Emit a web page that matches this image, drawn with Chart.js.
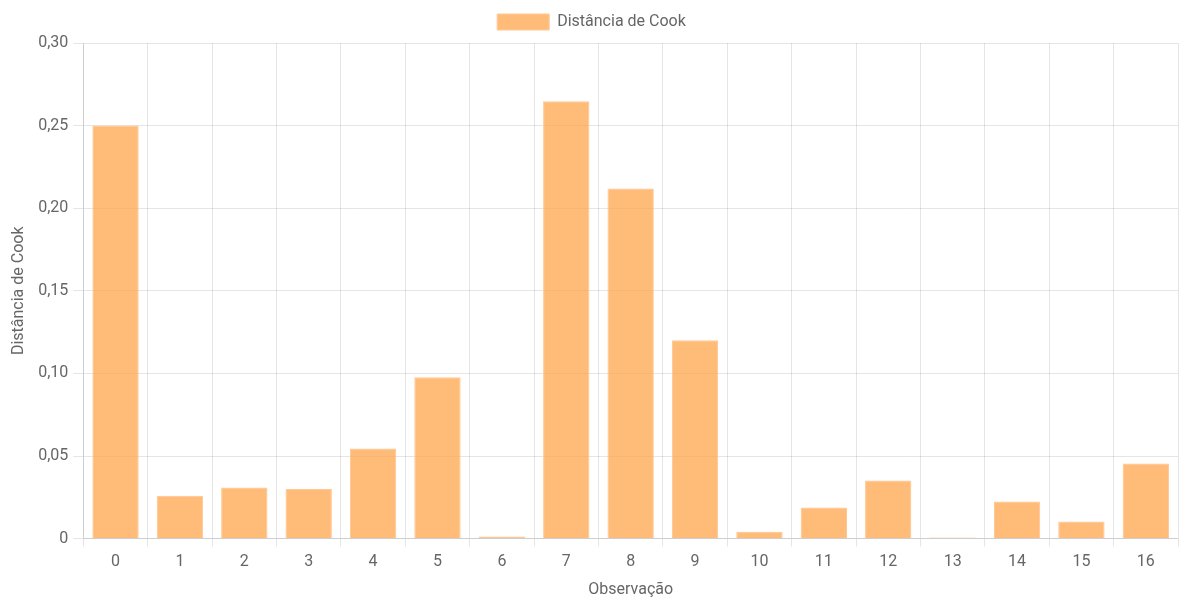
<!DOCTYPE html>
<html>
<head>
<meta charset="utf-8">
<script src="https://cdn.jsdelivr.net/npm/chart.js@4"></script>
<style>
  html, body { margin: 0; padding: 0; background: #fff; }
  #wrap { width: 1180px; height: 599px; }
</style>
</head>
<body>
<div id="wrap"><canvas id="grafico"></canvas></div>
<script>
const observacoes = ['0','1','2','3','4','5','6','7','8','9','10','11','12','13','14','15','16'];
const distanciaCook = [0.250, 0.026, 0.031, 0.030, 0.0545, 0.0976, 0.0012, 0.2648, 0.212, 0.120, 0.0042, 0.0188, 0.0352, 0.0006, 0.0224, 0.0103, 0.0455];

Chart.defaults.font.family = 'Roboto, sans-serif';
Chart.defaults.font.size = 16;
Chart.defaults.color = '#666';

// um pouco mais de espaço abaixo da legenda
const espacoLegenda = {
  id: 'espacoLegenda',
  beforeInit(chart) {
    const fitOriginal = chart.legend.fit;
    chart.legend.fit = function () {
      fitOriginal.bind(chart.legend)();
      this.height += 3;
    };
  }
};

const ctx = document.getElementById('grafico');

new Chart(ctx, {
  type: 'bar',
  data: {
    labels: observacoes,
    datasets: [{
      label: 'Distância de Cook',
      data: distanciaCook,
      backgroundColor: 'rgba(255, 159, 64, 0.7)',
      borderColor: 'rgba(255, 200, 150, 1)',
      borderWidth: 1
    }]
  },
  options: {
    responsive: true,
    maintainAspectRatio: false,
    animation: false,
    layout: { padding: { left: 5, right: 2, top: 2, bottom: -1 } },
    plugins: {
      legend: {
        labels: { boxWidth: 52, boxHeight: 16, padding: 12 }
      }
    },
    scales: {
      x: {
        ticks: { padding: 6 },
        title: { display: true, text: 'Observação', padding: { top: 3, bottom: 0 } }
      },
      y: {
        min: 0,
        max: 0.3,
        grid: { tickLength: 10 },
        ticks: {
          stepSize: 0.05,
          padding: 5,
          callback: v => v === 0 ? '0' : v.toFixed(2).replace('.', ',')
        },
        title: { display: true, text: 'Distância de Cook', padding: { top: 4, bottom: 5 } }
      }
    }
  },
  plugins: [espacoLegenda]
});
</script>
</body>
</html>
